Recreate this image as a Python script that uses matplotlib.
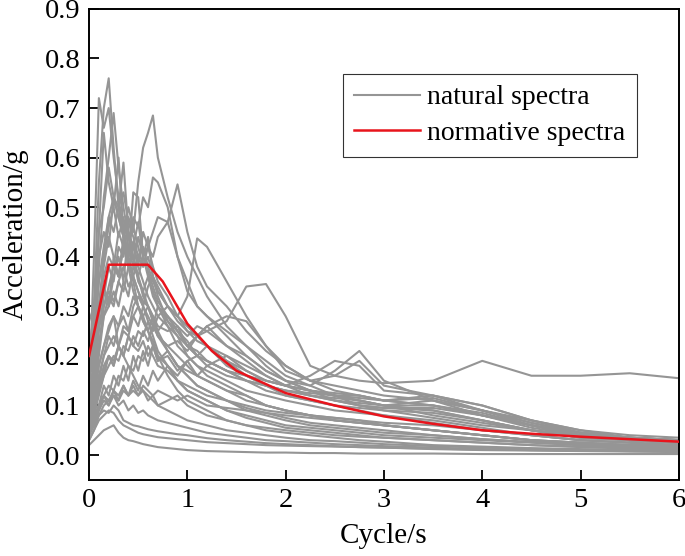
import matplotlib
matplotlib.use("Agg")
import matplotlib.pyplot as plt
import numpy as np

plt.rcParams['font.family'] = ['Liberation Serif', 'DejaVu Serif']
plt.rcParams['mathtext.fontset'] = 'stix'

# Period grid (s) for natural spectra
periods = [0, 0.05, 0.1, 0.15, 0.2, 0.25, 0.3, 0.35, 0.4, 0.45, 0.5, 0.55, 0.6, 0.65,
           0.7, 0.8, 0.9, 1.0, 1.1, 1.2, 1.4, 1.6, 1.8, 2.0, 2.25, 2.5, 2.75, 3.0,
           3.5, 4.0, 4.5, 5.0, 5.5, 6.0]

# Natural response spectra (g), one list per record
natural_spectra = [
    [0.15,0.30,0.55,0.70,0.76,0.62,0.50,0.44,0.38,0.33,0.30,0.27,0.25,0.22,0.20,0.16,0.13,0.11,0.10,0.09,0.07,0.06,0.05,0.045,0.04,0.035,0.03,0.027,0.02,0.017,0.014,0.012,0.011,0.01],
    [0.12,0.40,0.72,0.66,0.70,0.60,0.52,0.45,0.40,0.36,0.33,0.30,0.27,0.24,0.21,0.18,0.15,0.13,0.12,0.11,0.09,0.075,0.065,0.055,0.05,0.045,0.04,0.035,0.03,0.025,0.02,0.017,0.015,0.013],
    [0.10,0.20,0.38,0.52,0.60,0.69,0.58,0.50,0.44,0.40,0.36,0.32,0.30,0.28,0.25,0.21,0.18,0.16,0.14,0.13,0.11,0.095,0.085,0.075,0.065,0.06,0.055,0.05,0.04,0.032,0.026,0.022,0.02,0.018],
    [0.08,0.15,0.25,0.32,0.38,0.35,0.42,0.40,0.48,0.45,0.55,0.62,0.65,0.685,0.60,0.52,0.45,0.40,0.36,0.32,0.26,0.22,0.18,0.15,0.13,0.11,0.10,0.09,0.075,0.06,0.05,0.04,0.035,0.03],
    [0.10,0.18,0.30,0.36,0.40,0.38,0.45,0.42,0.40,0.48,0.46,0.52,0.50,0.56,0.55,0.50,0.40,0.33,0.30,0.28,0.24,0.20,0.17,0.15,0.13,0.12,0.11,0.10,0.08,0.065,0.05,0.04,0.035,0.03],
    [0.06,0.12,0.20,0.28,0.30,0.33,0.30,0.35,0.32,0.38,0.36,0.40,0.42,0.45,0.48,0.47,0.546,0.45,0.38,0.34,0.30,0.25,0.21,0.18,0.15,0.13,0.12,0.11,0.10,0.08,0.06,0.045,0.035,0.03],
    [0.05,0.10,0.16,0.20,0.24,0.22,0.26,0.28,0.25,0.30,0.32,0.30,0.34,0.36,0.33,0.30,0.28,0.32,0.437,0.42,0.35,0.28,0.22,0.18,0.15,0.14,0.13,0.12,0.11,0.09,0.07,0.05,0.04,0.035],
    [0.08,0.12,0.18,0.22,0.25,0.28,0.26,0.30,0.28,0.32,0.30,0.28,0.30,0.27,0.25,0.28,0.26,0.24,0.26,0.25,0.27,0.34,0.345,0.28,0.18,0.16,0.15,0.145,0.15,0.19,0.16,0.16,0.165,0.155],
    [0.06,0.10,0.15,0.20,0.22,0.24,0.22,0.26,0.25,0.28,0.26,0.30,0.28,0.26,0.30,0.28,0.25,0.22,0.24,0.26,0.22,0.20,0.17,0.15,0.14,0.17,0.21,0.15,0.11,0.08,0.06,0.04,0.03,0.025],
    [0.05,0.09,0.14,0.18,0.20,0.19,0.22,0.20,0.24,0.22,0.21,0.23,0.20,0.22,0.19,0.21,0.18,0.17,0.16,0.18,0.20,0.17,0.15,0.14,0.16,0.19,0.18,0.13,0.12,0.10,0.07,0.05,0.035,0.03],
    [0.20,0.25,0.35,0.42,0.48,0.45,0.50,0.53,0.47,0.44,0.40,0.42,0.38,0.35,0.33,0.30,0.27,0.25,0.23,0.22,0.20,0.18,0.16,0.14,0.13,0.12,0.12,0.11,0.12,0.10,0.07,0.045,0.035,0.03],
    [0.27,0.30,0.40,0.45,0.42,0.52,0.48,0.44,0.50,0.46,0.42,0.38,0.40,0.36,0.34,0.30,0.28,0.25,0.24,0.22,0.19,0.17,0.15,0.14,0.13,0.125,0.12,0.11,0.115,0.09,0.065,0.045,0.035,0.03],
    [0.18,0.22,0.30,0.38,0.44,0.40,0.36,0.42,0.38,0.40,0.35,0.33,0.36,0.32,0.30,0.27,0.25,0.23,0.20,0.19,0.17,0.16,0.15,0.14,0.12,0.115,0.11,0.10,0.10,0.085,0.06,0.04,0.03,0.025],
    [0.15,0.20,0.28,0.34,0.30,0.36,0.40,0.35,0.45,0.42,0.38,0.45,0.42,0.38,0.35,0.32,0.28,0.26,0.24,0.25,0.22,0.19,0.16,0.14,0.13,0.12,0.10,0.095,0.09,0.07,0.05,0.035,0.03,0.025],
    [0.22,0.28,0.45,0.50,0.58,0.52,0.48,0.44,0.40,0.43,0.38,0.35,0.32,0.30,0.28,0.26,0.24,0.22,0.20,0.18,0.16,0.15,0.14,0.13,0.12,0.11,0.105,0.10,0.11,0.09,0.065,0.045,0.035,0.03],
    [0.14,0.25,0.45,0.65,0.55,0.50,0.60,0.45,0.40,0.35,0.30,0.28,0.25,0.23,0.20,0.18,0.15,0.13,0.12,0.11,0.09,0.08,0.07,0.06,0.055,0.05,0.045,0.04,0.035,0.03,0.025,0.02,0.018,0.016],
    [0.10,0.18,0.30,0.40,0.48,0.52,0.50,0.59,0.45,0.40,0.36,0.33,0.30,0.27,0.24,0.21,0.18,0.16,0.14,0.13,0.11,0.09,0.08,0.07,0.06,0.055,0.05,0.045,0.04,0.032,0.026,0.02,0.018,0.016],
    [0.08,0.14,0.22,0.30,0.34,0.38,0.36,0.42,0.40,0.53,0.52,0.40,0.36,0.33,0.30,0.26,0.22,0.20,0.18,0.16,0.14,0.12,0.10,0.09,0.08,0.07,0.065,0.06,0.05,0.04,0.03,0.025,0.02,0.018],
    [0.05,0.08,0.12,0.16,0.20,0.18,0.22,0.25,0.24,0.28,0.30,0.27,0.25,0.28,0.24,0.22,0.20,0.18,0.16,0.15,0.13,0.12,0.10,0.09,0.08,0.075,0.07,0.065,0.06,0.05,0.04,0.03,0.025,0.02],
    [0.04,0.07,0.10,0.14,0.12,0.16,0.14,0.18,0.15,0.20,0.17,0.21,0.18,0.22,0.19,0.20,0.17,0.19,0.16,0.15,0.13,0.11,0.10,0.09,0.08,0.07,0.065,0.06,0.05,0.04,0.03,0.022,0.018,0.015],
    [0.03,0.05,0.08,0.10,0.11,0.12,0.10,0.11,0.09,0.10,0.085,0.09,0.08,0.075,0.07,0.065,0.06,0.055,0.05,0.045,0.04,0.035,0.03,0.028,0.025,0.022,0.02,0.018,0.015,0.012,0.01,0.009,0.008,0.007],
    [0.02,0.03,0.04,0.05,0.055,0.06,0.045,0.035,0.03,0.028,0.025,0.022,0.02,0.018,0.016,0.014,0.012,0.01,0.009,0.008,0.007,0.006,0.005,0.005,0.004,0.004,0.003,0.003,0.003,0.002,0.002,0.002,0.002,0.002],
    [0.04,0.06,0.08,0.09,0.085,0.10,0.09,0.07,0.065,0.06,0.058,0.055,0.052,0.05,0.048,0.045,0.042,0.04,0.037,0.034,0.03,0.027,0.024,0.022,0.02,0.018,0.016,0.015,0.012,0.01,0.009,0.008,0.007,0.006],
    [0.06,0.08,0.10,0.12,0.11,0.13,0.12,0.14,0.12,0.13,0.12,0.14,0.13,0.12,0.13,0.12,0.11,0.12,0.11,0.10,0.095,0.09,0.085,0.08,0.075,0.07,0.065,0.06,0.05,0.04,0.03,0.025,0.02,0.018],
    [0.03,0.05,0.07,0.08,0.09,0.085,0.07,0.06,0.055,0.05,0.045,0.042,0.04,0.038,0.036,0.034,0.032,0.03,0.028,0.026,0.024,0.022,0.02,0.019,0.018,0.017,0.016,0.015,0.013,0.011,0.01,0.009,0.008,0.008],
    [0.05,0.07,0.10,0.12,0.14,0.13,0.16,0.15,0.18,0.17,0.20,0.19,0.22,0.20,0.18,0.17,0.15,0.14,0.13,0.12,0.11,0.10,0.09,0.085,0.08,0.075,0.07,0.06,0.05,0.04,0.03,0.025,0.02,0.018],
    [0.08,0.12,0.18,0.22,0.26,0.28,0.22,0.20,0.18,0.16,0.14,0.13,0.12,0.11,0.10,0.09,0.08,0.07,0.065,0.06,0.05,0.045,0.04,0.035,0.03,0.028,0.025,0.022,0.018,0.015,0.012,0.01,0.009,0.008],
    [0.07,0.10,0.14,0.17,0.20,0.18,0.22,0.20,0.24,0.22,0.25,0.24,0.27,0.25,0.28,0.30,0.28,0.26,0.24,0.22,0.19,0.16,0.14,0.13,0.12,0.11,0.10,0.095,0.095,0.08,0.06,0.04,0.03,0.025],
    [0.04,0.06,0.09,0.11,0.10,0.12,0.11,0.13,0.12,0.14,0.12,0.13,0.11,0.12,0.10,0.11,0.12,0.10,0.09,0.08,0.07,0.06,0.055,0.05,0.045,0.04,0.037,0.035,0.03,0.025,0.02,0.016,0.013,0.011],
    [0.12,0.18,0.26,0.30,0.33,0.31,0.35,0.38,0.34,0.36,0.33,0.31,0.30,0.28,0.26,0.25,0.26,0.22,0.20,0.19,0.17,0.15,0.14,0.13,0.125,0.12,0.115,0.11,0.10,0.08,0.055,0.04,0.03,0.025],
    [0.10,0.15,0.22,0.28,0.32,0.30,0.35,0.33,0.38,0.36,0.40,0.38,0.42,0.40,0.44,0.47,0.40,0.35,0.30,0.28,0.25,0.22,0.19,0.16,0.14,0.12,0.11,0.10,0.09,0.07,0.05,0.035,0.03,0.025],
    [0.06,0.09,0.13,0.16,0.18,0.20,0.19,0.22,0.21,0.24,0.22,0.25,0.23,0.26,0.24,0.22,0.23,0.21,0.24,0.26,0.28,0.27,0.22,0.17,0.15,0.16,0.19,0.14,0.12,0.09,0.06,0.04,0.03,0.025],
    [0.16,0.22,0.35,0.40,0.46,0.50,0.44,0.48,0.42,0.38,0.44,0.40,0.37,0.34,0.31,0.28,0.25,0.22,0.21,0.19,0.17,0.15,0.13,0.12,0.11,0.10,0.095,0.09,0.085,0.07,0.05,0.035,0.03,0.025],
    [0.09,0.16,0.28,0.34,0.30,0.40,0.36,0.44,0.38,0.42,0.47,0.40,0.44,0.36,0.32,0.27,0.24,0.20,0.18,0.17,0.15,0.13,0.12,0.11,0.10,0.09,0.085,0.08,0.07,0.055,0.04,0.03,0.025,0.02],
    [0.05,0.07,0.09,0.12,0.10,0.13,0.11,0.14,0.12,0.15,0.13,0.16,0.14,0.17,0.15,0.18,0.16,0.19,0.20,0.22,0.18,0.16,0.14,0.12,0.11,0.10,0.09,0.08,0.065,0.05,0.04,0.03,0.025,0.02],
]

# Normative (code) design spectrum
norm_periods = [0, 0.2, 0.6, 0.75, 1.0, 1.25, 1.5, 2.0, 2.5, 3.0, 3.5, 4.0, 4.5, 5.0, 5.5, 6.0]
norm_values = [0.20, 0.384, 0.384, 0.35, 0.265, 0.21, 0.17, 0.125, 0.10, 0.078, 0.063, 0.05, 0.043, 0.037, 0.032, 0.027]

x_ticks = [0, 1, 2, 3, 4, 5, 6]
y_ticks = [0.0, 0.1, 0.2, 0.3, 0.4, 0.5, 0.6, 0.7, 0.8, 0.9]

fig = plt.figure(figsize=(6.85, 5.56), dpi=100)
ax = fig.add_axes([0.130, 0.137, 0.861, 0.847])

gray = '#959595'
for i, s in enumerate(natural_spectra):
    ax.plot(periods, s, color=gray, lw=1.5,
            label='natural spectra' if i == 0 else None, zorder=2)
ax.plot(norm_periods, norm_values, color='#e8141c', lw=1.8,
        label='normative spectra', zorder=3)

ax.set_xlim(0, 6)
ax.set_ylim(-0.05, 0.9)
ax.set_xticks(x_ticks)
ax.set_yticks(y_ticks)
ax.set_yticklabels([f'{v:.1f}' for v in y_ticks])
ax.tick_params(direction='in', length=7, width=1.3, labelsize=20.5,
               top=False, right=False, pad=6)
for sp in ax.spines.values():
    sp.set_linewidth(1.4)

ax.set_xlabel('Cycle/s', fontsize=21, labelpad=7)
ax.set_ylabel('Acceleration/g', fontsize=21)
ax.yaxis.set_label_coords(-0.103, 0.522)

leg = ax.legend(loc='upper left', bbox_to_anchor=(0.430, 0.862), fontsize=20,
                frameon=True, fancybox=False, edgecolor='black',
                handlelength=2.4, handletextpad=0.25, borderpad=0.4,
                labelspacing=0.35, borderaxespad=0)
leg.get_frame().set_linewidth(0.8)

fig.savefig('out.png', dpi=100)
